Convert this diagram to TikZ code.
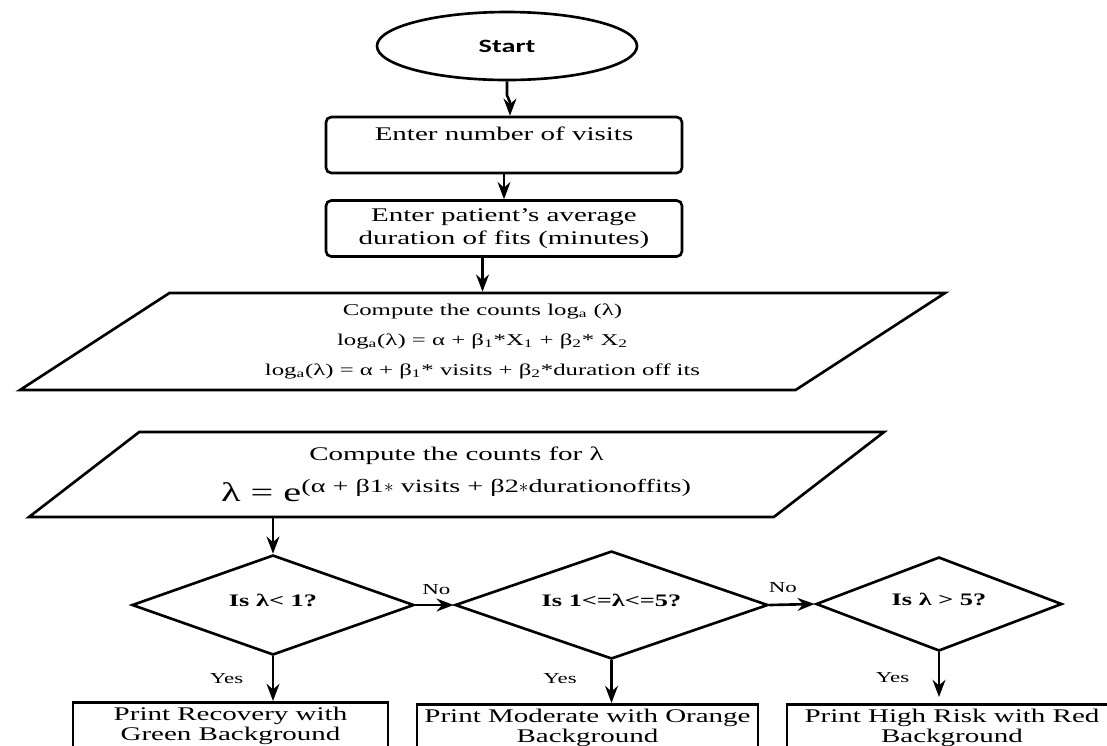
\documentclass[tikz,border=0pt]{standalone}
\usepackage{amsmath}
\usepackage{fontspec}
\setmainfont{Liberation Serif}[FakeStretch=1.5]
\newfontfamily\startfont{Carlito}[FakeStretch=1.5]
\usetikzlibrary{shapes.geometric,arrows.meta,positioning}

\tikzset{
  >=Stealth,
  every node/.style={font=\fontsize{11}{13}\selectfont},
  shape line/.style={draw,line width=1.5pt},
  terminal/.style={shape line,ellipse,minimum width=52mm,minimum height=13.6mm},
  inbox/.style={shape line,rounded corners=3pt,minimum width=71.2mm,minimum height=11.2mm,inner sep=1pt,align=center},
  iobox/.style={shape line,trapezium,trapezium stretches body,inner sep=1pt,align=center},
  decide/.style={shape line,diamond,inner sep=0pt,font=\bfseries\fontsize{10}{12}\selectfont},
  outbox/.style={shape line,minimum height=20mm,anchor=north},
  outtext/.style={align=center,inner sep=2pt,font=\fontsize{11}{11.4}\selectfont},
  arr/.style={->,line width=1.5pt},
  tag/.style={font=\fontsize{8.7}{10}\selectfont}
}

\begin{document}
\begin{tikzpicture}[x=0.2mm,y=-0.2mm]
  \path[use as bounding box] (0,0) rectangle (1107,745);
  \clip (0,0) rectangle (1107,745);

  % Start and the two inputs
  \node[terminal] (start) at (507,46) {\startfont\bfseries\fontsize{10.7}{12}\selectfont Start};
  \node[inbox,text height=8pt,text depth=13.5pt] (visits) at (504,145) {Enter number of visits};
  \node[inbox] (dur) at (504,228.5) {Enter patient’s average\\duration of fits (minutes)};

  % Computations
  \node[iobox,trapezium left angle=27.7,trapezium right angle=152.3,
        minimum width=185mm,minimum height=19.4mm,font=\fontsize{9.4}{17}\selectfont] (logcalc) at (482.5,341.5)
    {Compute the counts log\textsubscript{a} (λ)\\
     log\textsubscript{a}(λ) = α + β\textsubscript{1}*X\textsubscript{1} + β\textsubscript{2}* X\textsubscript{2}\\
     log\textsubscript{a}(λ) = α + β\textsubscript{1}* visits + β\textsubscript{2}*duration off its};
  \node[iobox,trapezium left angle=26.3,trapezium right angle=153.7,
        minimum width=171mm,minimum height=17mm,inner sep=0pt] (lamcalc) at (456.5,474.5)
    {Compute the counts for λ\\[7pt]
     {\fontsize{15.3}{18}\selectfont λ = e$^{\text{(α + β1$\ast$ visits + β2$\ast$durationoffits)}}$}};

  % Decisions
  \node[decide,aspect=2.82,minimum width=56.4mm,minimum height=20mm,text depth=5pt] (isless) at (273,605) {Is λ< 1?};
  \node[decide,aspect=2.9,minimum width=62.6mm,minimum height=21.6mm,text depth=5pt] (isrange) at (611.5,605) {Is 1<=λ<=5?};
  \node[decide,aspect=2.6,minimum width=49.2mm,minimum height=18.8mm,text depth=5pt] (isgreat) at (939,604) {Is λ > 5?};

  % Outputs
  \node[outbox,minimum width=63mm] (recov) at (230.5,701) {};
  \node[outtext,below=1pt of recov.north] (recovtxt) {Print Recovery with\\Green Background};
  \node[outbox,minimum width=68.2mm] (moder) at (587.5,703) {};
  \node[outtext,below=1pt of moder.north] (modertxt) {Print Moderate with Orange\\Background};
  \node[outbox,minimum width=66mm] (risk) at (952,703) {};
  \node[outtext,below=1pt of risk.north] (risktxt) {Print High Risk with Red\\Background};

  % Connectors
  \draw[arr] (start.south) -- ++(0,14) -- ++(3,7) coordinate (jog) -- (jog |- visits.north);
  \draw[arr] (visits.south) -- (dur.north);
  \draw[arr] (dur.south -| logcalc.center) -- (logcalc.center |- logcalc.north);
  \draw[arr] (isless.north |- lamcalc.south) -- (isless.north);

  \draw[arr] (isless.east) -- node[tag,above=2pt,pos=0.55] {No} (isrange.west);
  \draw[arr] (isrange.east) -- node[tag,above=3pt,pos=0.3] {No} (isgreat.west);

  \draw[arr] (isless.south) -- node[tag,left=4.5mm] {Yes} (isless.south |- recov.north);
  \draw[arr] (isrange.south) -- node[tag,left=5.5mm,yshift=2pt] {Yes} (isrange.south |- moder.north);
  \draw[arr,shorten >=1.2mm] (isgreat.south) -- node[tag,left=4.5mm] {Yes} (isgreat.south |- risk.north);
\end{tikzpicture}
\end{document}
